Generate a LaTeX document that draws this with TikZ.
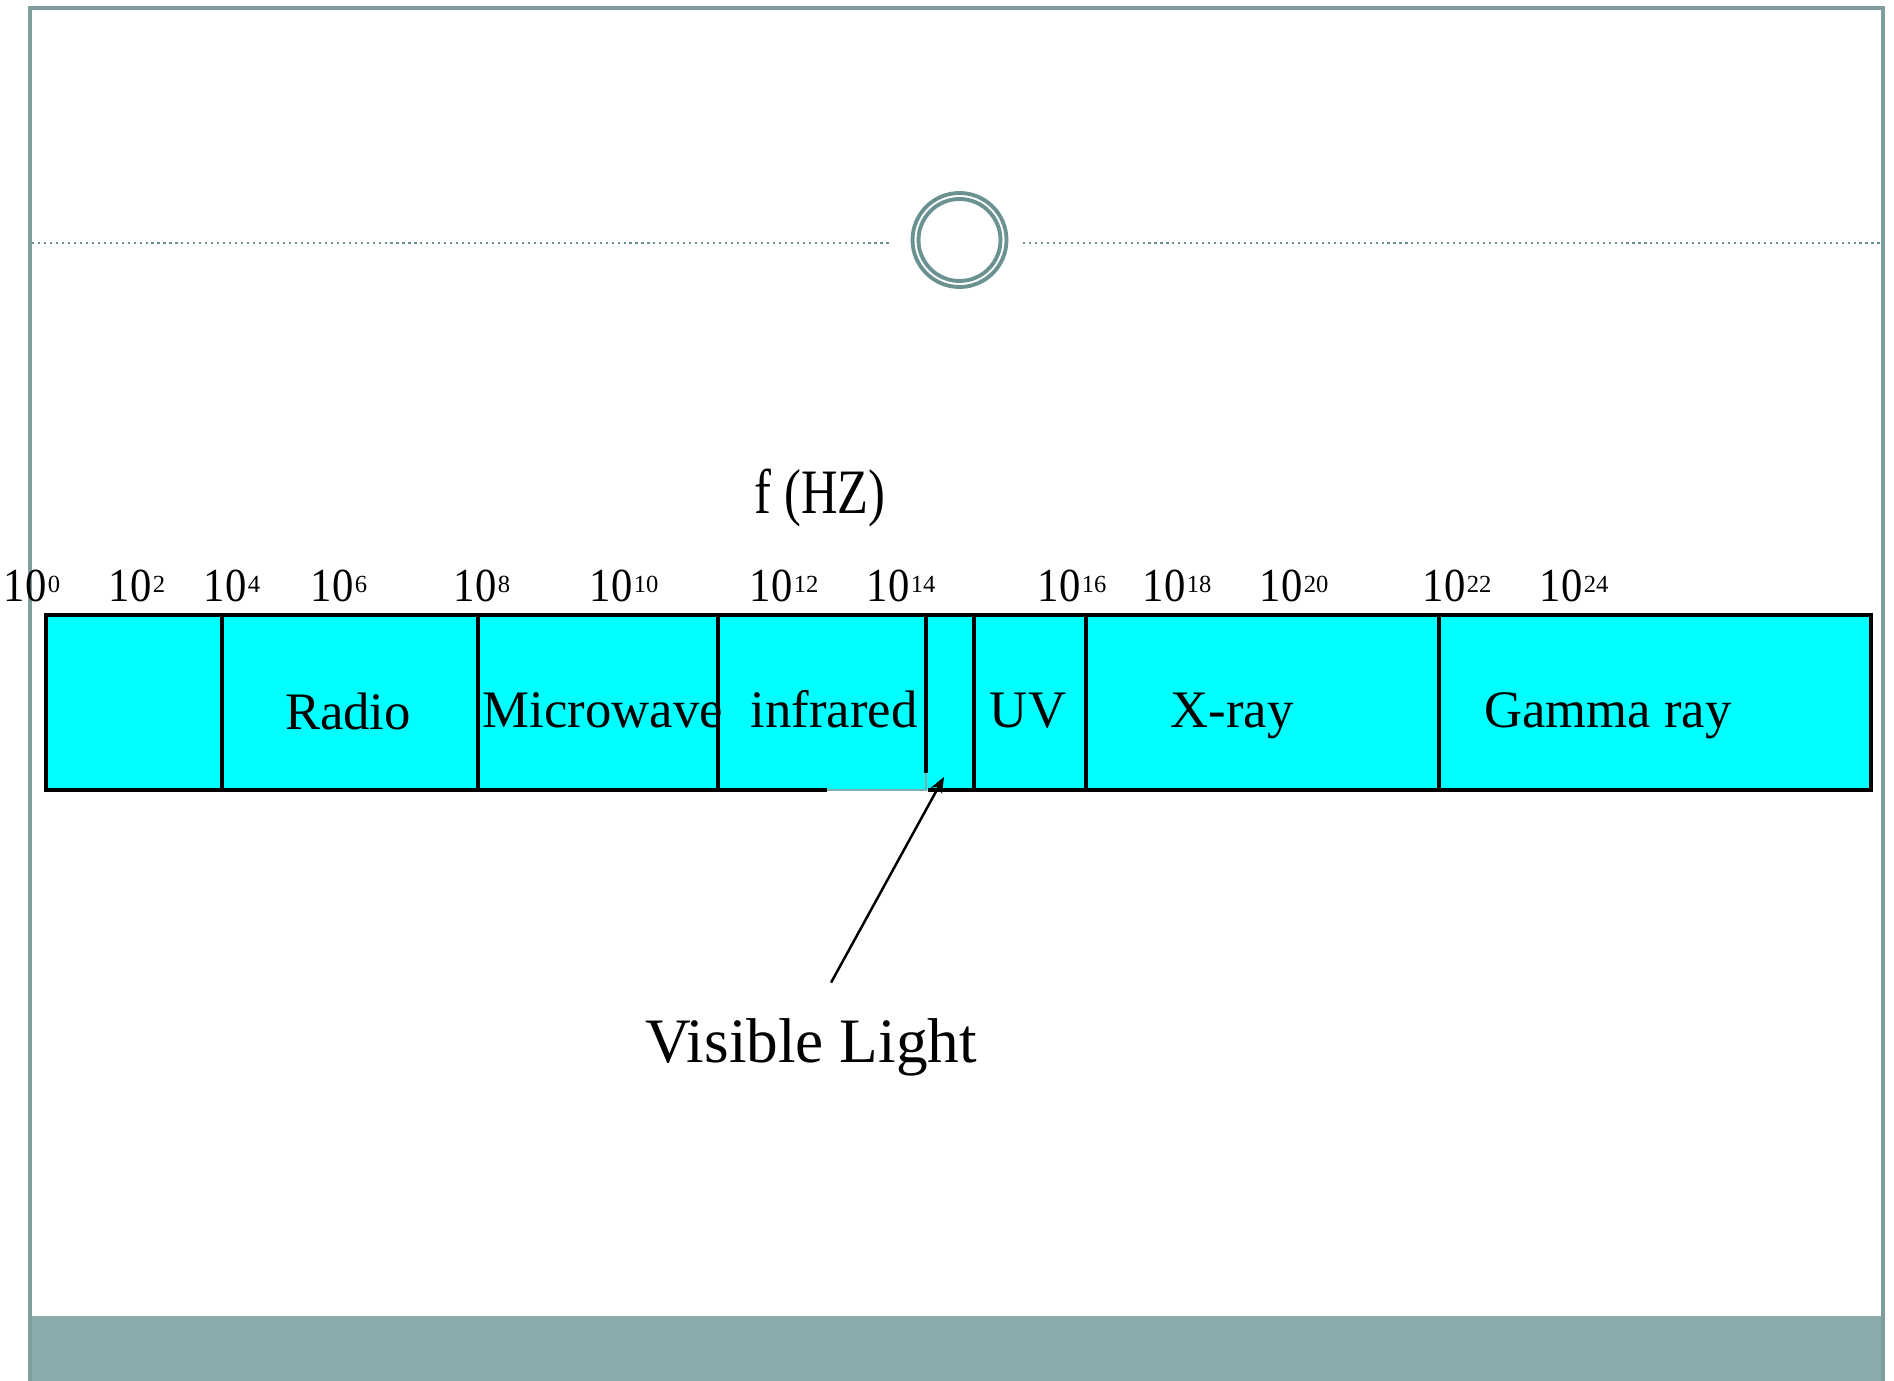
\documentclass[tikz,border=0pt]{standalone}
\usepackage{fontspec}
\setmainfont{Liberation Serif}
\newfontfamily\narrowfont[FakeStretch=0.8]{Liberation Serif}
\newfontfamily\scalefont[FakeStretch=0.9]{Liberation Serif}
\usetikzlibrary{arrows.meta}
\definecolor{slate}{HTML}{7F9E9E}
\definecolor{slatebar}{HTML}{8BACAC}
\definecolor{ringcol}{HTML}{6A9292}
\definecolor{bandcyan}{HTML}{00FFFF}
\definecolor{ghost}{HTML}{7FB0B0}
\newcommand{\pw}[1]{10\hspace{0.4pt}\raisebox{2.6pt}{\rmfamily\fontsize{7}{8}\selectfont #1}}

\begin{document}
\begin{tikzpicture}[>={Stealth[length=4.5pt,width=3.6pt]}]
    \tikzset{band/.style={draw, line width=0.9pt, fill=bandcyan, minimum height=1.75cm, inner sep=0pt, outer sep=0pt},
      lbl/.style={font=\fontsize{15}{18}\selectfont, anchor=base, inner sep=0pt},
      pwr/.style={font=\scalefont\fontsize{13.5}{16}\selectfont, anchor=base west, inner sep=0pt}}
    \useasboundingbox (0,0) rectangle (18.94,-13.81);
    % slide frame
    \fill[slatebar] (0.30,-13.16) rectangle (18.83,-13.81);
    \draw[slate, line width=0.9pt] (0.30,-13.81) -- (0.30,-0.08) -- (18.83,-0.08) -- (18.83,-13.81);
    \draw[ringcol, line width=0.7pt, dash pattern=on 0.6pt off 1.1pt] (0.32,-2.43) -- (8.92,-2.43);
    \draw[ringcol, line width=0.7pt, dash pattern=on 0.6pt off 1.1pt] (10.23,-2.43) -- (18.82,-2.43);
    \draw[ringcol, line width=1.1pt] (9.595,-2.40) circle (0.47);
    \draw[ringcol, line width=1.1pt] (9.595,-2.40) circle (0.41);
    % spectrum bands
    \foreach \c/\w/\n in {1.34/1.76/low, 3.50/2.56/radio, 5.98/2.40/micro, 8.22/2.08/ir,
        9.50/0.48/vis, 10.30/1.12/uv, 12.625/3.53/xray, 16.55/4.32/gamma}
      \node[band, minimum width=\w cm] (\n) at (\c,-7.025) {};
    \fill[bandcyan] (8.27,-7.73) rectangle (9.276,-7.90);
    \fill[white] (8.27,-7.90) rectangle (9.276,-7.93);
    \draw[ghost, line width=0.8pt] (8.27,-7.90) -- (9.26,-7.90) -- (9.26,-7.73);
    \node[lbl] (radiolbl) at (3.48,-7.30) {Radio};
    \node[lbl] (microlbl) at (6.03,-7.28) {Microwave};
    \node[lbl] (irlbl) at (8.34,-7.28) {infrared};
    \node[lbl] (uvlbl) at (10.28,-7.28) {UV};
    \node[lbl] (xraylbl) at (12.32,-7.28) {X-ray};
    \node[lbl] (gammalbl) at (16.08,-7.28) {Gamma ray};
    % frequency scale
    \node[font=\narrowfont\fontsize{18}{22}\selectfont, anchor=base] (fhz) at (8.20,-5.14) {f (HZ)};
    \foreach \x/\p in {0.03/0, 1.08/2, 2.03/4, 3.10/6, 4.53/8, 5.89/10, 7.49/12,
        8.66/14, 10.37/16, 11.42/18, 12.59/20, 14.22/22, 15.39/24}
      \node[pwr] (p\p) at (\x,-6.02) {\pw{\p}};
    % visible light pointer
    \node[font=\fontsize{18}{22}\selectfont, anchor=base] (vislbl) at (8.11,-10.62) {Visible Light};
    \coordinate (vistip) at (9.44,-7.77);
    \draw[->, line width=0.7pt] ([shift={(0.2,0.23)}]vislbl.north) -- (vistip);
\end{tikzpicture}
\end{document}
